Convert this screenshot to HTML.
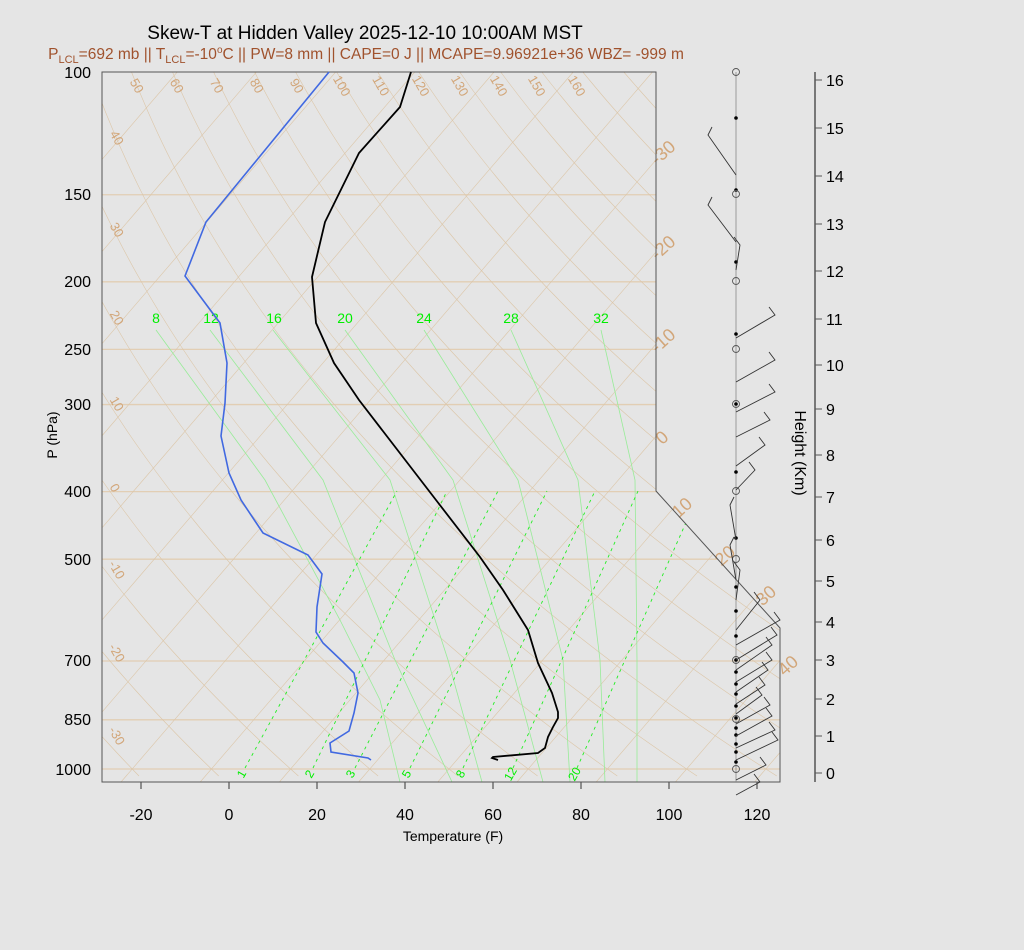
<!DOCTYPE html>
<html><head><meta charset="utf-8"><style>
html,body{margin:0;padding:0;background:#e5e5e5;}
svg{display:block;font-family:"Liberation Sans",sans-serif;}
</style></head><body>
<svg id="s" width="1024" height="950" viewBox="0 0 1024 950" xmlns="http://www.w3.org/2000/svg">
<rect width="1024" height="950" fill="#e5e5e5"/>
<defs><clipPath id="cp"><polygon points="102,72 656,72 656,491 780,628 780,782 102,782"/></clipPath></defs>
<g id="grid" clip-path="url(#cp)"></g>
<text x="365" y="39" font-size="19" text-anchor="middle" fill="#000">Skew-T at Hidden Valley 2025-12-10 10:00AM MST</text>
<text x="366" y="59" font-size="15.5" text-anchor="middle" fill="#a0522d">P<tspan font-size="11" dy="4">LCL</tspan><tspan dy="-4">=692 mb || T</tspan><tspan font-size="11" dy="4">LCL</tspan><tspan dy="-4">=-10</tspan><tspan font-size="10" dy="-6">o</tspan><tspan dy="6">C || PW=8 mm || CAPE=0 J || MCAPE=9.96921e+36 WBZ= -999 m</tspan></text>
<g font-size="16" text-anchor="end" fill="#000">
<text x="91" y="78">100</text><text x="91" y="200">150</text><text x="91" y="287">200</text><text x="91" y="355">250</text><text x="91" y="410">300</text><text x="91" y="497">400</text><text x="91" y="565">500</text><text x="91" y="666">700</text><text x="91" y="725">850</text><text x="91" y="775">1000</text>
</g>
<text transform="translate(57,435) rotate(-90)" font-size="14" text-anchor="middle">P (hPa)</text>
<g font-size="16" text-anchor="middle" fill="#000">
<text x="141" y="820">-20</text><text x="229" y="820">0</text><text x="317" y="820">20</text><text x="405" y="820">40</text><text x="493" y="820">60</text><text x="581" y="820">80</text><text x="669" y="820">100</text><text x="757" y="820">120</text>
</g>
<text x="453" y="841" font-size="14" text-anchor="middle">Temperature (F)</text>
<g stroke="#333" stroke-width="1"><line x1="141" y1="782" x2="141" y2="789"/><line x1="229" y1="782" x2="229" y2="789"/><line x1="317" y1="782" x2="317" y2="789"/><line x1="405" y1="782" x2="405" y2="789"/><line x1="493" y1="782" x2="493" y2="789"/><line x1="581" y1="782" x2="581" y2="789"/><line x1="669" y1="782" x2="669" y2="789"/><line x1="757" y1="782" x2="757" y2="789"/></g>
<g font-size="13" fill="#d2a679" text-anchor="middle">
<text transform="translate(133,88) rotate(60)">50</text><text transform="translate(173,88) rotate(60)">60</text><text transform="translate(213,88) rotate(60)">70</text><text transform="translate(253,88) rotate(60)">80</text><text transform="translate(293,88) rotate(60)">90</text><text transform="translate(338,88) rotate(60)">100</text><text transform="translate(377,88) rotate(60)">110</text><text transform="translate(417,88) rotate(60)">120</text><text transform="translate(456,88) rotate(60)">130</text><text transform="translate(495,88) rotate(60)">140</text><text transform="translate(533,88) rotate(60)">150</text><text transform="translate(573,88) rotate(60)">160</text>
<text transform="translate(113,140) rotate(60)">40</text><text transform="translate(113,232) rotate(60)">30</text><text transform="translate(113,320) rotate(60)">20</text><text transform="translate(113,406) rotate(60)">10</text><text transform="translate(111,490) rotate(60)">0</text><text transform="translate(113,572) rotate(60)">-10</text><text transform="translate(113,655) rotate(60)">-20</text><text transform="translate(113,738) rotate(60)">-30</text>
</g>
<g font-size="18" fill="#d2a679" text-anchor="middle">
<text transform="translate(667,157) rotate(-42)">-30</text><text transform="translate(667,252) rotate(-42)">-20</text><text transform="translate(667,345) rotate(-42)">-10</text><text transform="translate(666,442) rotate(-42)">0</text><text transform="translate(686,512) rotate(-42)">10</text><text transform="translate(729,560) rotate(-42)">20</text><text transform="translate(770,600) rotate(-42)">30</text><text transform="translate(792,670) rotate(-42)">40</text>
</g>
<g font-size="14" fill="#00ee00" text-anchor="middle">
<text x="156" y="323">8</text><text x="211" y="323">12</text><text x="274" y="323">16</text><text x="345" y="323">20</text><text x="424" y="323">24</text><text x="511" y="323">28</text><text x="601" y="323">32</text>
</g>
<g font-size="12" fill="#00ee00" text-anchor="middle">
<text transform="translate(245,776) rotate(-60)">1</text><text transform="translate(313,776) rotate(-60)">2</text><text transform="translate(354,776) rotate(-60)">3</text><text transform="translate(410,776) rotate(-60)">5</text><text transform="translate(464,776) rotate(-60)">8</text><text transform="translate(514,776) rotate(-60)">12</text><text transform="translate(578,776) rotate(-60)">20</text>
</g>
<polygon points="102,72 656,72 656,491 780,628 780,782 102,782" fill="none" stroke="#555" stroke-width="1"/>
<polyline fill="none" stroke="#4169e1" stroke-width="1.6" points="329,72 206,222 185,276 220,323 227,363 225,403 221,436 229,473 241,500 263,533 308,555 322,574 317,607 316,632 323,643 343,662 354,673 358,693 354,713 349,731 330,743 331,752 368,758 371,760"/>
<polyline fill="none" stroke="#000" stroke-width="1.8" points="411,72 400,107 359,153 325,222 312,277 316,323 334,363 359,400 436,500 480,557 503,590 528,630 538,663 552,693 558,712 558,718 553,727 548,737 545,748 538,753 493,757 492,758 498,760"/>
<line x1="736" y1="72" x2="736" y2="782" stroke="#888" stroke-width="0.8"/>
<g id="wind" stroke="#333" stroke-width="0.9" fill="none"></g>
<line x1="815" y1="72" x2="815" y2="782" stroke="#555" stroke-width="1.5"/>
<g id="hax" font-size="16" fill="#000"></g>
<text transform="translate(795,453) rotate(90)" font-size="16" text-anchor="middle">Height (Km)</text>
</svg>
<script>
(function(){
var NS="http://www.w3.org/2000/svg";
function el(p,t,a){var e=document.createElementNS(NS,t);for(var k in a)e.setAttribute(k,a[k]);p.appendChild(e);return e;}
var g=document.getElementById('grid');
function X(F,y){return 229+4.4*F+0.86*(769-y);}
function P(y){return 100*Math.exp((y-72)/302.7);}
[150,200,250,300,400,500,700,850,1000].forEach(function(p){var y=72+302.7*Math.log(p/100);el(g,'line',{x1:102,x2:780,y1:y,y2:y,stroke:'#e2ceb4','stroke-width':1.3});});
for(var c=-110;c<=50;c+=10){var F=c*1.8+32;el(g,'line',{x1:X(F,782),y1:782,x2:X(F,72),y2:72,stroke:'#dcc6a8','stroke-width':0.6});}
for(var th=-40;th<=170;th+=10){var pts=[];for(var y=72;y<=782;y+=8){var p=P(y);var T=(th+273.15)*Math.pow(p/1000,0.2857);var F=(T-273.15)*1.8+32;pts.push(X(F,y).toFixed(1)+','+y);}
el(g,'polyline',{points:pts.join(' '),fill:'none',stroke:'#dcc6a8','stroke-width':0.6});}
var M=[[[156,330],[265,480],[340,620],[380,700],[400,782]],[[210,330],[323,480],[395,660],[452,782]],[[273,330],[390,480],[448,660],[482,782]],[[345,330],[453,480],[510,660],[543,782]],[[424,330],[518,480],[563,660],[570,782]],[[511,330],[578,480],[600,660],[605,782]],[[601,330],[635,480],[637,660],[637,782]]];
M.forEach(function(a){el(g,'polyline',{points:a.map(function(q){return q.join(',');}).join(' '),fill:'none',stroke:'#98ec98','stroke-width':0.8});});
[[245,768,397,491],[313,768,447,491],[355,768,498,491],[410,768,547,491],[463,768,595,491],[513,768,638,491],[577,768,700,491]].forEach(function(a){el(g,'line',{x1:a[0],y1:a[1],x2:a[2],y2:a[3],stroke:'#22ee22','stroke-width':0.9,'stroke-dasharray':'3,4'});});
var hy=[773,736,699,660,622,581,540,497,455,409,365,319,271,224,176,128,80];
var h=document.getElementById('hax');
hy.forEach(function(y,i){el(h,'line',{x1:815,x2:822,y1:y,y2:y,stroke:'#555'});var t=el(h,'text',{x:826,y:y+6});t.textContent=i;});
var w=document.getElementById('wind');
var dots=[118,190,262,334,404,472,538,587,611,636,660,672,684,694,706,718,728,735,744,752,762];
dots.forEach(function(y){el(w,'circle',{cx:736,cy:y,r:1.8,fill:'#000',stroke:'none'});});
[72,194,281,349,404,491,559,660,719,769].forEach(function(y){el(w,'circle',{cx:736,cy:y,r:3.5,fill:'none',stroke:'#555'});});
var barbs=[[155,708,135],[222,708,205],[250,740,245],[318,775,315],[362,775,360],[392,775,392],[417,770,420],[446,765,445],[470,755,470],[520,730,505],[560,730,545],[580,740,570],[610,760,600],[625,780,620],[640,777,635],[650,772,645],[662,772,660],[672,768,670],[684,765,685],[694,762,695],[704,770,705],[716,772,716],[728,775,730],[740,778,740],[760,766,765],[775,760,782]];
barbs.forEach(function(b){var yb=b[0]+20;el(w,'polyline',{points:'736,'+yb+' '+b[1]+','+b[2]+' '+(b[1]+(b[1]>736?-6:4))+','+(b[2]-8)});});
})();
</script>
</body></html>
